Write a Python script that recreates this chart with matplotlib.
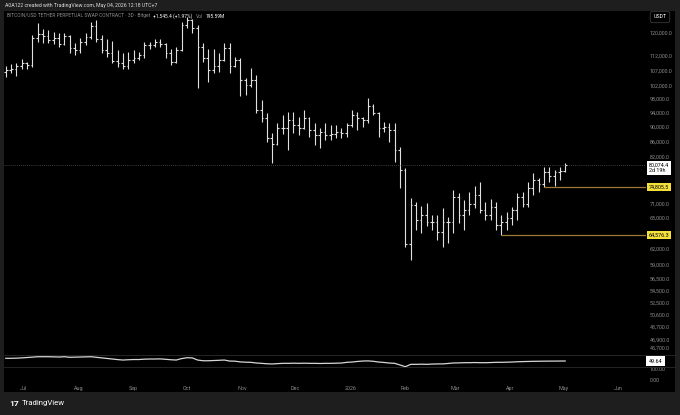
import numpy as np
import matplotlib
matplotlib.use('Agg')
import matplotlib.pyplot as plt
import matplotlib.dates as mdates
from matplotlib.patches import Rectangle
from matplotlib.ticker import NullLocator

plt.rcParams['font.family'] = ['Roboto', 'DejaVu Sans']

# 3D bars, BTC/USDT perpetual, Jun 2025 -> May 2026
first_bar = '2025-06-21'
bar_days = 3

highs = [108400, 109100, 109400, 110700, 109700, 119200, 123600, 121400, 121000, 120300,
         119900, 119900, 119200, 116300, 118100, 119900, 124000, 124800, 119200, 117700,
         117000, 113800, 112800, 113100, 113800, 113100, 116600, 116600, 117700, 117700,
         116200, 114200, 114900, 124000, 125900, 125100, 122900, 116300, 114200, 114200,
         112800, 116300, 116300, 111400, 111100, 104400, 107700, 105400, 97600, 93900,
         88300, 91000, 93300, 94100, 94100, 92700, 94700, 92700, 91000, 89600,
         91000, 90400, 90400, 89600, 91000, 94700, 94100, 92700, 98200, 96400,
         94100, 91300, 91000, 91000, 84600, 79300, 72300, 71500, 70600, 71200,
         68700, 68700, 70100, 68300, 74100, 73400, 71900, 73700, 75000, 76000,
         71500, 72100, 71500, 68700, 69300, 70300, 73400, 73700, 76000, 78100,
         76900, 79500, 79500, 78700, 79500, 80600]
lows = [104800, 106000, 105100, 107400, 107400, 108000, 116600, 116300, 116300, 115900,
        114900, 115600, 112800, 112100, 112800, 115600, 117700, 116600, 112800, 111400,
        109400, 108000, 107400, 107400, 109400, 110400, 111100, 114200, 114900, 114900,
        111100, 108700, 109400, 113500, 121700, 120000, 101300, 109700, 103200, 106000,
        106400, 110000, 106000, 108000, 98800, 99100, 101600, 93900, 91300, 85900,
        80400, 85100, 88000, 83800, 88300, 87700, 89300, 87200, 85100, 84300,
        86400, 86400, 86900, 86900, 87200, 90000, 89100, 89900, 91000, 93300,
        87200, 88500, 85900, 80700, 74600, 62200, 59800, 65600, 65000, 66400,
        65600, 63600, 62200, 63000, 65000, 67000, 65600, 68700, 70100, 69100,
        67600, 67600, 65600, 64576.3, 65600, 66600, 67600, 70300, 70300, 73000,
        73700, 74805.5, 76000, 75000, 76400, 78300]
closes = [107000, 107400, 108400, 109400, 108700, 118100, 119500, 118800, 117300, 118100,
          115900, 118800, 114500, 113800, 116600, 118400, 122500, 117700, 113800, 112800,
          110100, 109400, 108400, 110400, 111100, 112100, 115600, 115600, 116600, 115900,
          112800, 109700, 113800, 122900, 124800, 121700, 114900, 111100, 107000, 108400,
          110400, 114500, 108400, 110400, 103800, 102200, 103800, 94700, 92400, 86900,
          85300, 89600, 89600, 91800, 90400, 89600, 92400, 89100, 87700, 88500,
          87700, 88000, 88500, 88300, 90400, 93300, 92400, 91800, 95800, 93900,
          89600, 89900, 89100, 83800, 78800, 62800, 70800, 67600, 68700, 67200,
          67200, 65200, 67200, 67200, 72600, 68700, 69700, 71000, 73000, 69700,
          68700, 70300, 66600, 67200, 68100, 69700, 72600, 71000, 74600, 76400,
          75500, 78300, 77400, 78300, 78529, 80074.4]
opens = [106400] + closes[:-1]

# lower pane oscillator
osc = [53.4, 53.4, 53.6, 54.0, 54.5, 55.0,
       55.6, 55.6, 55.6, 55.4, 55.2, 55.6, 54.8,
       55.0, 55.2, 55.4, 55.6,
       54.8, 54.0, 53.2, 52.4, 51.6, 51.0,
       51.4, 51.7, 51.7,
       52.2, 52.4, 52.4, 52.6, 52.0, 51.4, 51.0,
       53.0, 54.2, 54.0,
       51.0, 50.0, 50.0,
       50.3, 50.6, 51.0,
       49.6, 49.4, 48.4, 48.0, 47.8,
       46.9, 46.4, 45.8, 45.5,
       46.0, 46.4, 46.4, 46.6, 46.4, 46.6, 46.4,
       46.4, 46.2, 46.4, 46.4, 46.6, 46.8, 47.8, 48.2,
       49.0, 49.6, 49.8, 49.2,
       48.2, 47.6, 46.8, 46.4,
       44.1, 41.7, 45.0,
       45.0, 45.2, 45.0, 45.4, 45.6, 45.6, 46.2, 46.9,
       47.0, 47.3, 47.3, 47.5, 47.3, 47.3, 47.5, 47.8, 47.8, 48.0, 48.2,
       48.6, 48.8, 49.0, 49.2, 49.3, 49.4, 49.5, 49.5, 49.6, 49.64]

price_ticks = [120000, 112000, 107000, 102000, 98000, 94000, 90000, 86000, 82000,
               71000, 68000, 62000, 59000, 56500, 54500, 52500, 50600, 48700, 46900, 45700]
month_starts = ['2025-07-01', '2025-08-01', '2025-09-01', '2025-10-01', '2025-11-01',
                '2025-12-01', '2026-01-01', '2026-02-01', '2026-03-01', '2026-04-01',
                '2026-05-01', '2026-06-01']
month_labels = ['Jul', 'Aug', 'Sep', 'Oct', 'Nov', 'Dec', '2026', 'Feb', 'Mar', 'Apr', 'May', 'Jun']

last_price = 80074.4
level_hi = 74805.5
level_lo = 64576.3

header = 'A0A122 created with TradingView.com, May 04, 2026 12:18 UTC+7'

W, H = 680, 415
GRAY = '#8c8c8c'
BAR = '#e0e0e0'
GOLD = '#9a7a34'


def box(x0, y0, x1, y1):
    return [x0 / W, 1 - y1 / H, (x1 - x0) / W, (y1 - y0) / H]


fig = plt.figure(figsize=(W / 100, H / 100), dpi=100, facecolor='#1e1e1e')
fig.add_artist(Rectangle((4 / W, 1 - 392 / H), 671 / W, 381 / H, transform=fig.transFigure,
                         facecolor='black', edgecolor='none', zorder=0))

x = mdates.date2num(np.datetime64(first_bar)) + bar_days * np.arange(len(closes))
xmin, xmax = x[0] - 1, x[0] + 360.5

ax = fig.add_axes(box(4, 11, 646, 355), facecolor='black')
ax.vlines(x, lows, highs, color=BAR, lw=0.8)
ax.hlines(opens, x - 1.0, x, color=BAR, lw=0.8)
ax.hlines(closes, x, x + 1.0, color=BAR, lw=0.8)
ax.axhline(last_price, color='#777777', lw=0.5, ls=(0, (1, 2)))
ax.hlines(level_hi, x[lows.index(level_hi)], xmax, color=GOLD, lw=0.9)
ax.hlines(level_lo, x[lows.index(level_lo)], xmax, color=GOLD, lw=0.9)
ax.set_yscale('log')
ax.set_ylim(44700, 128250)
ax.set_xlim(xmin, xmax)
ax.yaxis.tick_right()
ax.set_yticks(price_ticks)
ax.set_yticklabels([f'{v:,.1f}' for v in price_ticks])
ax.yaxis.set_minor_locator(NullLocator())
ax.tick_params(axis='y', length=0, pad=2.5, labelsize=3.9, colors=GRAY)
ax.set_xticks([])
for s in ax.spines.values():
    s.set_visible(False)

lab = dict(xycoords=('axes fraction', 'data'), textcoords='offset points',
           fontsize=3.9, va='center', ha='left', annotation_clip=False)
ax.annotate(f'{last_price:,.1f}\n2d 19h', (1.0, last_price), xytext=(2, -2.2), color='black',
            linespacing=1.0, bbox=dict(boxstyle='square,pad=0.35', fc='white', ec='none'), **lab)
ax.annotate(f'{level_hi:,.1f}', (1.0, level_hi), xytext=(2, 0), color='black',
            bbox=dict(boxstyle='square,pad=0.3', fc='#f5e13c', ec='none'), **lab)
ax.annotate(f'{level_lo:,.1f}', (1.0, level_lo), xytext=(2, 0), color='black',
            bbox=dict(boxstyle='square,pad=0.3', fc='#f5e13c', ec='none'), **lab)

# oscillator pane
ax2 = fig.add_axes(box(4, 355, 646, 367), facecolor='black')
ax2.plot(x, osc, color='#d6d6d6', lw=0.9)
ax2.set_xlim(xmin, xmax)
ax2.set_ylim(41.3, 58)
ax2.set_xticks([])
ax2.set_yticks([])
for s in ax2.spines.values():
    s.set_visible(False)
ax2.annotate(f'{osc[-1]:.2f}', (1.0, osc[-1]), xytext=(2, 0), color='black',
             bbox=dict(boxstyle='square,pad=0.45', fc='white', ec='none'), **lab)

# empty pane with date axis
ax3 = fig.add_axes(box(4, 367, 646, 383), facecolor='black')
ax3.set_xlim(xmin, xmax)
ax3.set_ylim(-27, 118)
ax3.yaxis.tick_right()
ax3.set_yticks([100, 0])
ax3.set_yticklabels(['100.00', '0.00'])
ax3.tick_params(axis='y', length=0, pad=2.5, labelsize=3.9, colors=GRAY)
ax3.set_xticks(mdates.date2num(np.array(month_starts, dtype='datetime64[D]')))
ax3.set_xticklabels(month_labels)
ax3.tick_params(axis='x', length=0, pad=2, labelsize=3.9, colors=GRAY)
for s in ax3.spines.values():
    s.set_visible(False)

for yy in (355, 367):
    fig.add_artist(plt.Line2D([4 / W, 675 / W], [1 - yy / H] * 2, transform=fig.transFigure,
                              color='#2a2a2a', lw=0.6))

# texts
fig.text(5 / W, 1 - 5.5 / H, header, color='#dddddd', fontsize=3.7, va='center')

renderer = fig.canvas.get_renderer()
parts = [('BITCOIN/USD TETHER PERPETUAL SWAP CONTRACT · 3D · Bitget', GRAY),
         ('+1,545.4 (+1.97%)', 'white'), ('Vol', GRAY), ('195.59M', 'white')]
px = 7
for s, c in parts:
    t = fig.text(px / W, 1 - 16 / H, s, color=c, fontsize=3.5, va='center')
    px = t.get_window_extent(renderer).x1 + 3

fig.text(660 / W, 1 - 17 / H, 'USDT', color='white', fontsize=3.8, va='center', ha='center',
         bbox=dict(boxstyle='round,pad=0.6,rounding_size=0.4', fc='black', ec='#3a3a3a', lw=0.6))

fig.text(9 / W, 1 - 403 / H, '17', color='white', fontsize=6, fontweight='bold', va='center')
fig.text(22 / W, 1 - 403 / H, 'TradingView', color='white', fontsize=5.6, va='center')

fig.savefig('out.png', dpi=100, facecolor=fig.get_facecolor())
